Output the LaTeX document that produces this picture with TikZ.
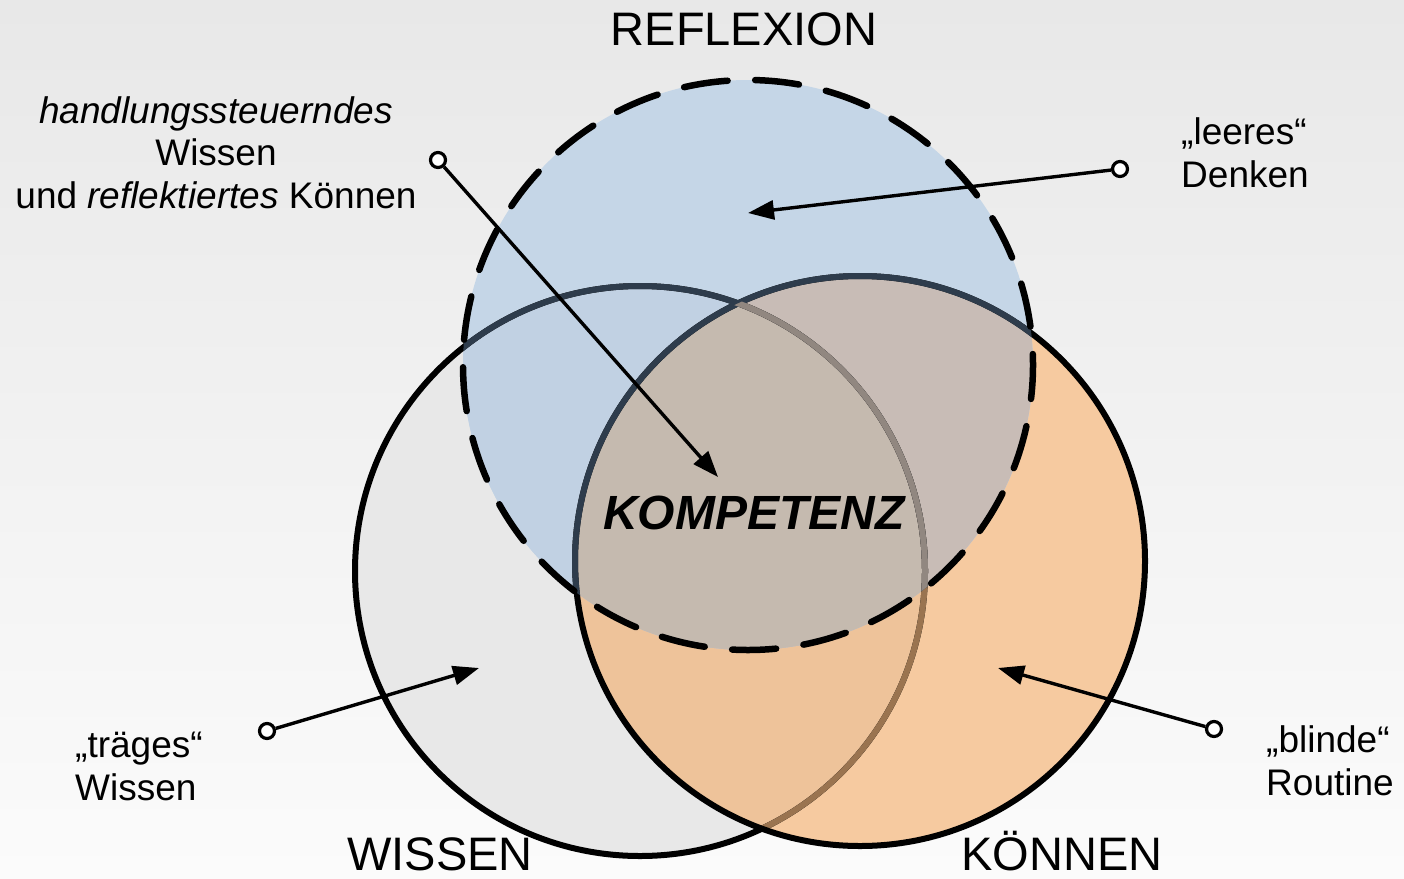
\documentclass[tikz,border=0pt]{standalone}
\usepackage{fontspec}
\setmainfont{Liberation Sans}
\usetikzlibrary{arrows.meta}
\definecolor{bgtop}{HTML}{E8E8E8}
\definecolor{bgbot}{HTML}{FBFBFB}
\definecolor{wgray}{HTML}{E8E8E8}
\definecolor{korange}{HTML}{F6CAA0}
\definecolor{rblue}{HTML}{C5D6E7}
\definecolor{wkcol}{HTML}{EEC39A}
\definecolor{rwcol}{HTML}{C1D1E3}
\definecolor{rkcol}{HTML}{C8BCB6}
\definecolor{rwkcol}{HTML}{C5BAAF}
\definecolor{wbrown}{HTML}{9A7450}
\definecolor{wgb}{HTML}{918780}
\definecolor{dslate}{HTML}{2E3C4C}
\tikzset{
  outl/.style={line width=6pt},
  dashout/.style={line width=6.5pt, line cap=round, dash pattern=on 44pt off 27.6pt, dash phase=10pt},
  dot/.style={circle, draw, line width=3.2pt, fill=white, inner sep=0pt, minimum size=15pt},
  arr/.style={line width=3.4pt, -{Triangle[length=26pt,width=19pt]}},
  big/.style={font=\fontsize{47}{56}\selectfont, inner sep=0pt, anchor=base},
  small/.style={font=\fontsize{37}{42.5}\selectfont, inner sep=0pt},
}
\def\Wc{(640,571) circle[radius=285]}
\def\Kc{(860,561) circle[radius=285]}
\def\Rc{(748,365) circle[radius=285]}
\begin{document}
\begin{tikzpicture}[x=1pt,y=-1pt]
\useasboundingbox (0,0) rectangle (1404,878);
\fill[top color=bgtop,bottom color=bgbot] (0,0) rectangle (1404,878);
% fills
\fill[wgray] \Wc;
\fill[korange] \Kc;
\fill[rblue] \Rc;
\begin{scope}\clip \Wc; \fill[wkcol] \Kc; \end{scope}
\begin{scope}\clip \Rc; \fill[rwcol] \Wc; \end{scope}
\begin{scope}\clip \Rc; \fill[rkcol] \Kc; \end{scope}
\begin{scope}\clip \Rc; \clip \Wc; \fill[rwkcol] \Kc; \end{scope}
% outlines
\draw[outl] \Wc;
\begin{scope}\clip \Kc; \draw[outl,wbrown] \Wc; \end{scope}
\draw[outl] \Kc;
\begin{scope}\clip \Rc; \draw[outl,dslate] \Wc; \draw[outl,dslate] \Kc; \end{scope}
\begin{scope}\clip \Rc; \clip \Kc; \draw[outl,wgb] \Wc; \end{scope}
\draw[dashout] \Rc;
% labels
\node[big] (lr) at (744,45) {REFLEXION};
\node[big] (lw) at (440,870) {WISSEN};
\node[big] (lk) at (1062,870) {KÖNNEN};
\node[inner sep=0pt, anchor=base, font=\fontsize{48}{56}\selectfont\bfseries\itshape] (komp) at (754,529) {KOMPETENZ};
% annotations
\node[small, anchor=base, align=center] (th) at (216,208) {\textit{handlungssteuerndes}\\Wissen\\und \textit{reflektiertes} Können};
\node[small, anchor=base west, align=left] (tl) at (1181,187) {„leeres“\\Denken};
\node[small, anchor=base west, align=left] (tt) at (75,800) {„träges“\\Wissen};
\node[small, anchor=base west, align=left] (tb) at (1266,795) {„blinde“\\Routine};
% connectors
\node[dot] (c1) at (438,160) {};
\node[dot] (c2) at (1120,169) {};
\node[dot] (c3) at (267,731) {};
\node[dot] (c4) at (1214,729) {};
\coordinate (t1) at (718,477);
\coordinate (t2) at (748,213);
\coordinate (t3) at (479,668);
\coordinate (t4) at (998,668);
\draw[arr] (c1) -- (t1);
\draw[arr] (c2) -- (t2);
\draw[arr] (c3) -- (t3);
\draw[arr] (c4) -- (t4);
\end{tikzpicture}
\end{document}
